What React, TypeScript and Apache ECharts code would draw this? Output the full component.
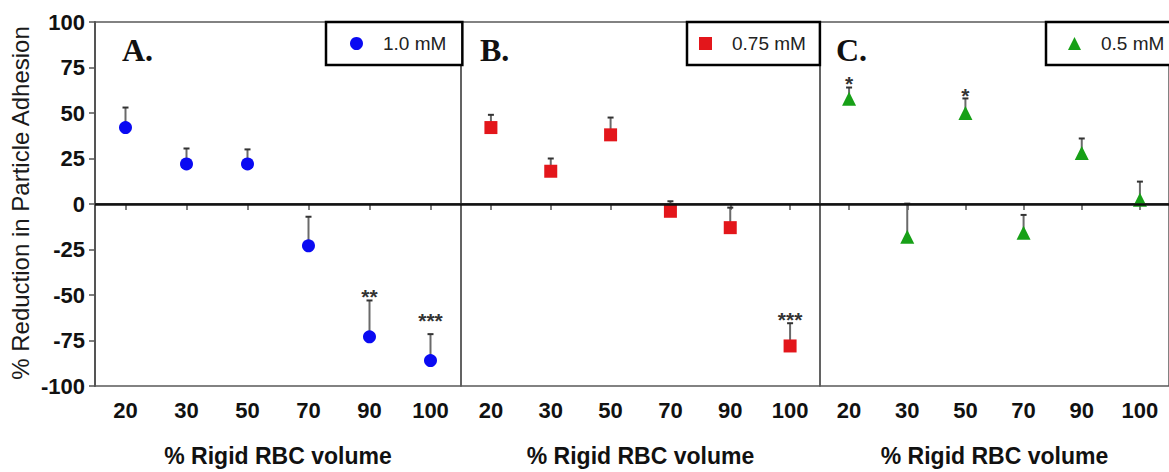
import React, { useEffect, useRef } from "react";
import * as echarts from "echarts";

// ---------- data ----------
const categories = ["20", "30", "50", "70", "90", "100"];
const yMin = -100;
const yMax = 100;
const yStep = 25;

const seriesNames = ["1.0 mM", "0.75 mM", "0.5 mM"];

const valuesA = [42, 22, 22, -23, -73, -86];
const errTopA = [53, 30.5, 30, -7, -53, -71.5];
const starsA = ["", "", "", "", "**", "***"];
const starYA = [0, 0, 0, 0, -51, -64];

const valuesB = [42, 18, 38, -4, -13, -78];
const errTopB = [49, 25, 47.5, 1.5, -2, -65.5];
const starsB = ["", "", "", "", "", "***"];
const starYB = [0, 0, 0, 0, 0, -63.5];

const valuesC = [57.8, -18, 50, -15.8, 28, 2.3];
const errTopC = [64, 0.2, 58, -6, 36, 12.3];
const starsC = ["*", "", "*", "", "", ""];
const starYC = [66, 0, 59.5, 0, 0, 0];

const panelLetters = ["A.", "B.", "C."];
const xTitle = "% Rigid RBC volume";
const yTitle = "% Reduction in Particle Adhesion";

// ---------- layout / style ----------
const SANS = "'Liberation Sans', Arial, sans-serif";
const SERIF = "'Liberation Serif', 'Times New Roman', serif";
const colors = ["#0a0af2", "#e3161b", "#17a017"];
const symbols = ["circle", "rect", "triangle"];
const grids = [
  { left: 95, top: 22, width: 366, height: 364 },
  { left: 461, top: 22, width: 359, height: 364 },
  { left: 820, top: 22, width: 359, height: 364 },
];
const letterOffsets = [27, 19, 16];
const legendBoxes = [
  { left: 326, padding: [11, 16, 11, 24] },
  { left: 687, padding: [11, 14, 11, 12] },
  { left: 1046, padding: [11, 15, 11, 22] },
];

const allValues = [valuesA, valuesB, valuesC];
const allTops = [errTopA, errTopB, errTopC];
const allStars = [starsA, starsB, starsC];
const allStarY = [starYA, starYB, starYC];

function errorSeries(idx: number) {
  const values = allValues[idx];
  const tops = allTops[idx];
  const stars = allStars[idx];
  const starY = allStarY[idx];
  return {
    type: "custom",
    xAxisIndex: idx,
    yAxisIndex: idx,
    z: 2,
    silent: true,
    data: categories.map((_, i) => [i, values[i], tops[i], starY[i]]),
    encode: { x: 0, y: [1, 2] },
    renderItem: (params: any, api: any) => {
      const i = api.value(0);
      const p0 = api.coord([i, api.value(1)]);
      const p1 = api.coord([i, api.value(2)]);
      const children: any[] = [
        {
          type: "line",
          shape: { x1: p0[0], y1: p0[1], x2: p1[0], y2: p1[1] },
          style: { stroke: "#6a6a6a", lineWidth: 2 },
        },
        {
          type: "line",
          shape: { x1: p1[0] - 3, y1: p1[1], x2: p1[0] + 3, y2: p1[1] },
          style: { stroke: "#333", lineWidth: 2 },
        },
      ];
      const s = stars[params.dataIndex];
      if (s) {
        const ps = api.coord([i, api.value(3)]);
        children.push({
          type: "text",
          x: ps[0],
          y: ps[1],
          style: {
            text: s,
            fontSize: 21,
            fontWeight: "bold",
            fontFamily: SANS,
            fill: "#333",
            align: "center",
            verticalAlign: "middle",
          },
        });
      }
      return { type: "group", children };
    },
  };
}

function pointSeries(idx: number) {
  return {
    type: "scatter",
    name: seriesNames[idx],
    xAxisIndex: idx,
    yAxisIndex: idx,
    z: 3,
    symbol: symbols[idx],
    symbolSize: idx === 2 ? 14 : 13,
    itemStyle: { color: colors[idx], opacity: 1 },
    data: allValues[idx],
    markLine: {
      silent: true,
      symbol: ["none", "none"],
      label: { show: false },
      lineStyle: { color: "#111", width: 2.5, type: "solid" },
      data: [{ yAxis: 0 }],
    },
  };
}

export default function App() {
  const ref = useRef<HTMLDivElement>(null);

  useEffect(() => {
    if (!ref.current) return;
    const chart = echarts.init(ref.current, undefined, { renderer: "svg" });

    const option: any = {
      animation: false,
      backgroundColor: "#fff",
      grid: grids.map((g) => ({
        ...g,
        show: true,
        borderColor: "#5a5a5a",
        borderWidth: 1.5,
        backgroundColor: "transparent",
      })),
      xAxis: grids.map((_, idx) => ({
        type: "category",
        gridIndex: idx,
        data: categories,
        boundaryGap: true,
        axisLine: { show: true, lineStyle: { color: "#555", width: 2 } },
        axisTick: {
          show: true,
          alignWithLabel: true,
          length: 6,
          lineStyle: { color: "#555", width: 1.5 },
        },
        axisLabel: {
          margin: 13,
          fontSize: 22,
          fontWeight: "bold",
          fontFamily: SANS,
          color: "#111",
        },
        splitLine: { show: false },
        name: xTitle,
        nameLocation: "middle",
        nameGap: 58,
        nameTextStyle: {
          fontSize: 23,
          fontWeight: "bold",
          fontFamily: SANS,
          color: "#111",
        },
      })),
      yAxis: grids.map((_, idx) => ({
        type: "value",
        gridIndex: idx,
        min: yMin,
        max: yMax,
        interval: yStep,
        show: idx === 0,
        axisLine: { show: true, lineStyle: { color: "#555", width: 2 } },
        axisTick: { show: true, length: 6, lineStyle: { color: "#555", width: 1.5 } },
        axisLabel: {
          margin: 10,
          fontSize: 22,
          fontWeight: "bold",
          fontFamily: SANS,
          color: "#111",
        },
        splitLine: { show: false },
      })),
      legend: legendBoxes.map((b, idx) => ({
        data: [seriesNames[idx]],
        left: b.left,
        top: 22,
        padding: b.padding,
        borderColor: "#000",
        borderWidth: 2.5,
        borderRadius: 0,
        backgroundColor: "#fff",
        itemWidth: 13,
        itemHeight: 13,
        selectedMode: false,
        textStyle: {
          fontSize: 19,
          fontFamily: SANS,
          color: "#222",
          lineHeight: 21,
          padding: [0, 0, 0, 15],
        },
      })),
      graphic: [
        {
          type: "text",
          x: 20,
          y: 203,
          rotation: Math.PI / 2,
          style: {
            text: yTitle,
            fontSize: 24,
            fontFamily: SANS,
            fill: "#1a1a1a",
            align: "center",
            verticalAlign: "middle",
          },
        },
        ...grids.map((g, idx) => ({
          type: "text",
          x: g.left + letterOffsets[idx],
          y: 50,
          style: {
            text: panelLetters[idx],
            fontSize: 32,
            fontWeight: "bold",
            fontFamily: SERIF,
            fill: "#111",
            align: "left",
            verticalAlign: "middle",
          },
        })),
      ],
      series: [
        errorSeries(0),
        errorSeries(1),
        errorSeries(2),
        pointSeries(0),
        pointSeries(1),
        pointSeries(2),
      ],
    };

    chart.setOption(option);
    return () => {
      chart.dispose();
    };
  }, []);

  return (
    <div
      ref={ref}
      style={{
        position: "fixed",
        left: 0,
        top: 0,
        width: 1169,
        height: 472,
        background: "#fff",
      }}
    />
  );
}
